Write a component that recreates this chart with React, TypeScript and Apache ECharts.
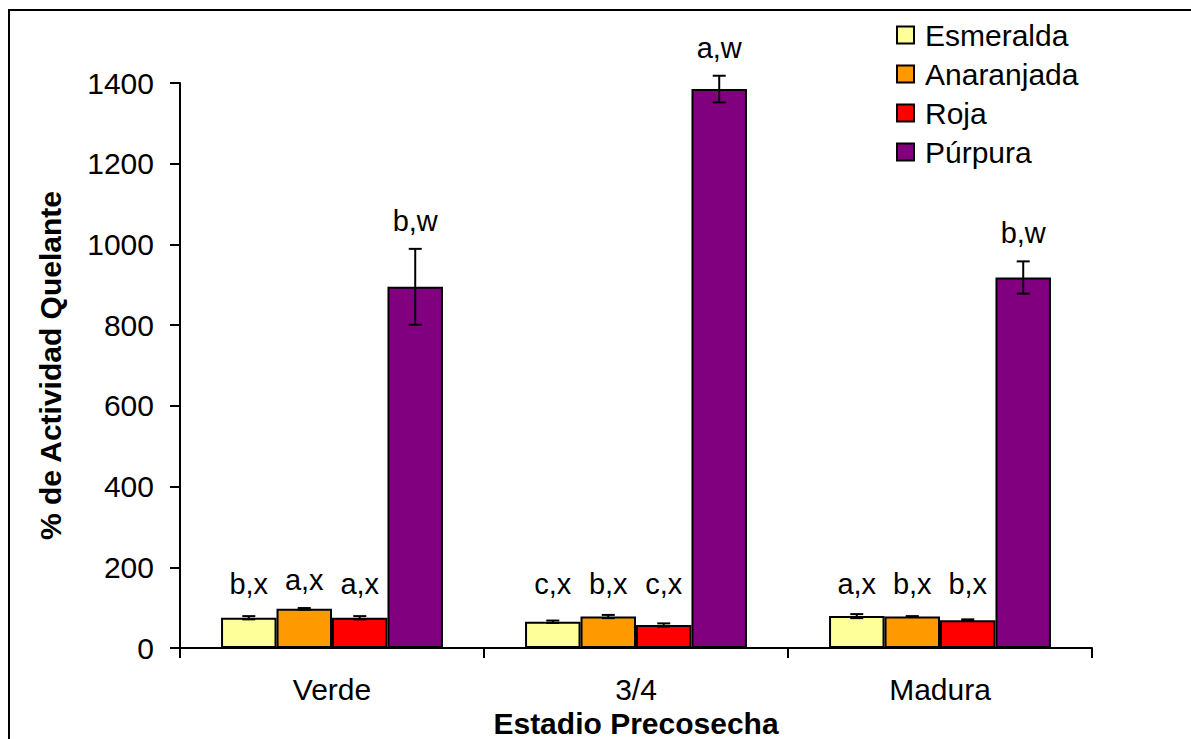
import React, { useEffect, useRef } from "react";
import * as echarts from "echarts";

const stages = ["Verde", "3/4", "Madura"];
const varieties = ["Esmeralda", "Anaranjada", "Roja", "Púrpura"];
const colors = ["#FFFF99", "#FF9900", "#FF0000", "#800080"];

// % actividad quelante per variety, one value per stage
const esmeralda = [75, 65, 79];
const anaranjada = [97, 78, 78];
const roja = [75, 57, 69];
const purpura = [895, 1385, 918];

// standard errors
const esmeraldaErr = [4, 3, 5];
const anaranjadaErr = [2, 4, 1];
const rojaErr = [4, 4, 2];
const purpuraErr = [94, 33, 40];

// significance letters
const esmeraldaSig = ["b,x", "c,x", "a,x"];
const anaranjadaSig = ["a,x", "b,x", "b,x"];
const rojaSig = ["a,x", "c,x", "b,x"];
const purpuraSig = ["b,w", "a,w", "b,w"];

const yTicks = { min: 0, max: 1400, interval: 200 };

const FONT = "'Liberation Sans', Arial, sans-serif";
const FS = 30;
const CAT_GAP = 0.27;
// letters above short bars line up at a common floor level
const LETTER_FLOOR = 90;

export default function App() {
  const ref = useRef<HTMLDivElement>(null);

  useEffect(() => {
    if (!ref.current) return;
    const chart = echarts.init(ref.current, undefined, { renderer: "svg" });

    const values = [esmeralda, anaranjada, roja, purpura];
    const errs = [esmeraldaErr, anaranjadaErr, rojaErr, purpuraErr];
    const sigs = [esmeraldaSig, anaranjadaSig, rojaSig, purpuraSig];

    const errData: any[] = [];
    values.forEach((arr, s) => {
      arr.forEach((v, c) => {
        errData.push([c, v, errs[s][c], s, sigs[s][c]]);
      });
    });

    const barSeries = varieties.map((name, i) => ({
      name,
      type: "bar",
      data: values[i],
      barGap: "0%",
      barCategoryGap: CAT_GAP * 100 + "%",
      itemStyle: { color: colors[i], borderColor: "#000", borderWidth: 2 },
      z: 2,
    }));

    chart.setOption({
      animation: false,
      backgroundColor: "#fff",
      textStyle: { fontFamily: FONT },
      grid: {
        left: 180,
        right: 99,
        top: 83,
        bottom: 91,
        containLabel: false,
        outerBoundsMode: "none",
      },
      legend: {
        orient: "vertical",
        left: 896,
        top: 20,
        padding: 0,
        icon: "rect",
        data: varieties,
        itemWidth: 17,
        itemHeight: 17,
        itemGap: 9,
        textStyle: { fontSize: FS, color: "#000", fontFamily: FONT, padding: [0, 0, 0, 6] },
      },
      xAxis: {
        type: "category",
        data: stages,
        name: "Estadio Precosecha",
        nameLocation: "middle",
        nameGap: 47,
        nameTextStyle: { fontSize: FS, fontWeight: "bold", color: "#000", fontFamily: FONT },
        axisLine: { lineStyle: { color: "#000", width: 2 } },
        axisTick: { show: true, length: 10, lineStyle: { color: "#000", width: 2 } },
        axisLabel: { fontSize: FS, color: "#000", margin: 26, fontFamily: FONT },
      },
      yAxis: {
        type: "value",
        min: yTicks.min,
        max: yTicks.max,
        interval: yTicks.interval,
        name: "% de Actividad Quelante",
        nameLocation: "middle",
        nameGap: 115,
        nameTextStyle: { fontSize: FS, fontWeight: "bold", color: "#000", fontFamily: FONT },
        axisLine: { show: true, lineStyle: { color: "#000", width: 2 } },
        axisTick: { show: true, length: 10, lineStyle: { color: "#000", width: 2 } },
        axisLabel: {
          fontSize: FS,
          color: "#000",
          margin: 26,
          fontFamily: FONT,
          formatter: (v: number) => String(v),
        },
        splitLine: { show: false },
      },
      series: [
        ...barSeries,
        {
          type: "custom",
          name: "err",
          z: 5,
          data: errData,
          encode: { x: 0, y: 1 },
          renderItem: (params: any, api: any) => {
            const c = api.value(0);
            const v = api.value(1);
            const e = api.value(2);
            const s = api.value(3);
            const label = errData[params.dataIndex][4];
            const band = api.size([1, 0])[0];
            const bw = (band * (1 - CAT_GAP)) / 4;
            const center = api.coord([c, v]);
            const x = center[0] + (s - 1.5) * bw;
            const top = api.coord([c, v + e])[1];
            const bot = api.coord([c, v - e])[1];
            const labelY = api.coord([c, Math.max(v + e, LETTER_FLOOR)])[1] - 28;
            const cap = 6.5;
            const ls = { stroke: "#000", lineWidth: 2 };
            return {
              type: "group",
              children: [
                { type: "line", shape: { x1: x, y1: top, x2: x, y2: bot }, style: ls },
                { type: "line", shape: { x1: x - cap, y1: top, x2: x + cap, y2: top }, style: ls },
                { type: "line", shape: { x1: x - cap, y1: bot, x2: x + cap, y2: bot }, style: ls },
                {
                  type: "text",
                  style: {
                    text: label,
                    x,
                    y: labelY,
                    align: "center",
                    verticalAlign: "middle",
                    fontSize: 29,
                    fontFamily: FONT,
                    fill: "#000",
                  },
                },
              ],
            };
          },
        },
      ],
      graphic: [
        {
          type: "rect",
          shape: { x: 9, y: 10, width: 1400, height: 1000 },
          style: { fill: "none", stroke: "#000", lineWidth: 2 },
          silent: true,
        },
      ],
    });

    return () => chart.dispose();
  }, []);

  return (
    <div
      ref={ref}
      style={{ position: "fixed", left: 0, top: 0, width: 1191, height: 739 }}
    />
  );
}
